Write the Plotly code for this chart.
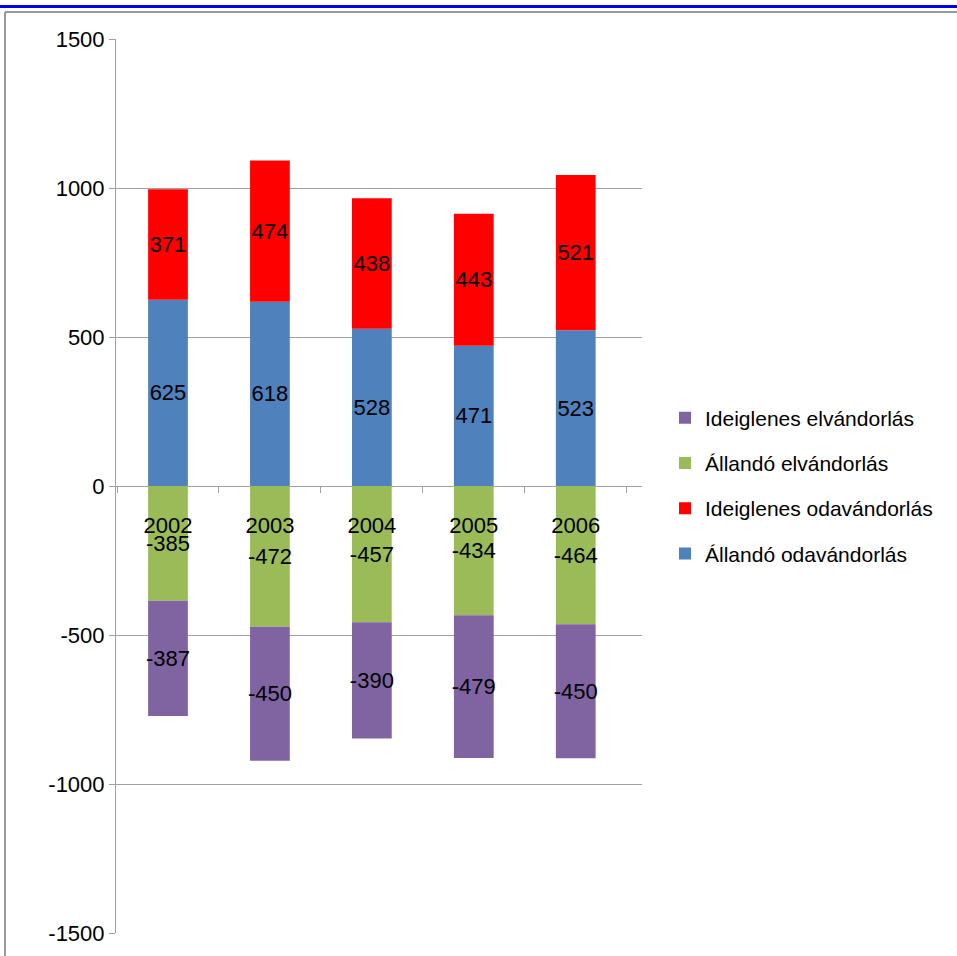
import plotly.graph_objects as go

years = ["2002", "2003", "2004", "2005", "2006"]
allando_oda = [625, 618, 528, 471, 523]
ideiglenes_oda = [371, 474, 438, 443, 521]
allando_el = [-385, -472, -457, -434, -464]
ideiglenes_el = [-387, -450, -390, -479, -450]
y_ticks = [-1500, -1000, -500, 0, 500, 1000, 1500]
y_tick_labels = ["-1500", "-1000", "-500", "0", "500", "1000", "1500"]

series = [
    ("Állandó odavándorlás", allando_oda, "#4F81BD", 4),
    ("Ideiglenes odavándorlás", ideiglenes_oda, "#FF0000", 3),
    ("Állandó elvándorlás", allando_el, "#9BBB59", 2),
    ("Ideiglenes elvándorlás", ideiglenes_el, "#8064A2", 1),
]

FONT = "Liberation Sans, Arial, sans-serif"

fig = go.Figure()
for i, (name, vals, col, rank) in enumerate(series):
    fig.add_trace(go.Bar(
        x=years, y=vals, name=name, marker=dict(color=col, line=dict(width=0)),
        text=[str(v) for v in vals], textposition="inside", insidetextanchor="middle",
        textangle=0, constraintext="none", textfont=dict(color="black", size=22, family=FONT),
        legendgroup=f"g{i}", legendrank=rank, width=0.39,
    ))

W, H = 957, 956
L, R, T, B = 116, 315, 39, 23
pw, ph = W - L - R, H - T - B

def px_to_paper_x(px):
    return (px - L) / pw

def px_to_paper_y(py):
    return 1 - (py - T) / ph

fig.update_layout(
    width=W, height=H, barmode="relative",
    margin=dict(l=L, r=R, t=T, b=B, autoexpand=False),
    plot_bgcolor="white", paper_bgcolor="white",
    font=dict(family=FONT, size=22, color="black"),
    showlegend=True,
    legend=dict(
        x=px_to_paper_x(665), xanchor="left", y=0.5, yanchor="middle",
        traceorder="grouped", tracegroupgap=15,
        font=dict(size=21, family=FONT, color="black"),
        bgcolor="rgba(0,0,0,0)",
    ),
    xaxis=dict(
        type="category", range=[-0.51, 4.65], anchor="free", position=0.5,
        showline=False, showgrid=False, tickson="boundaries", ticks="outside",
        ticklen=6, tickcolor="#A0A0A0", ticklabelstandoff=24,
        tickfont=dict(size=22, family=FONT, color="black"),
    ),
    yaxis=dict(
        range=[-1500, 1500], tickvals=y_ticks, ticktext=y_tick_labels,
        showgrid=True, gridcolor="#A0A0A0", gridwidth=1,
        zeroline=True, zerolinecolor="#A0A0A0", zerolinewidth=1,
        showline=True, linecolor="#A0A0A0", linewidth=1,
        ticks="outside", ticklen=6, tickcolor="#A0A0A0",
        tickfont=dict(size=22, family=FONT, color="black"),
    ),
    shapes=[
        dict(type="line", xref="paper", yref="paper",
             x0=px_to_paper_x(0), x1=px_to_paper_x(W), y0=px_to_paper_y(6.5), y1=px_to_paper_y(6.5),
             line=dict(color="#0000EE", width=3)),
        dict(type="line", xref="paper", yref="paper",
             x0=px_to_paper_x(5), x1=px_to_paper_x(W), y0=px_to_paper_y(12), y1=px_to_paper_y(12),
             line=dict(color="#9A9A9A", width=2)),
        dict(type="line", xref="paper", yref="paper",
             x0=px_to_paper_x(5), x1=px_to_paper_x(5), y0=px_to_paper_y(12), y1=px_to_paper_y(W),
             line=dict(color="#9A9A9A", width=2)),
    ],
)

fig.write_html("out.html", config={"displayModeBar": False},
               post_script="document.body.style.margin='0';")
